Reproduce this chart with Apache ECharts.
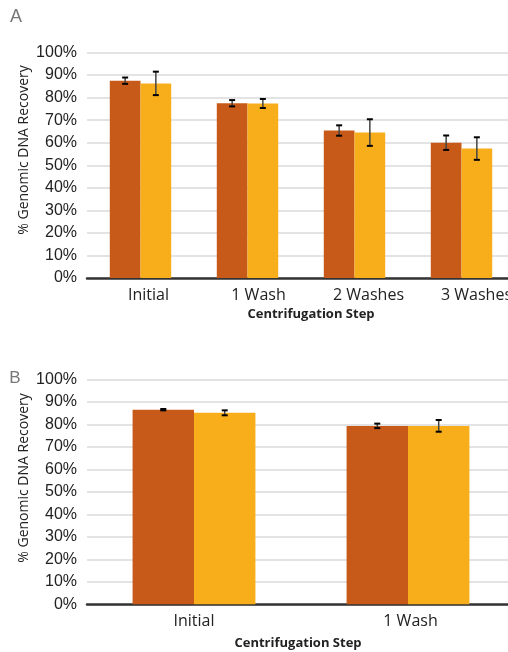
<!DOCTYPE html>
<html>
<head>
<meta charset="utf-8">
<script src="https://cdn.jsdelivr.net/npm/echarts@6/dist/echarts.min.js"></script>
<style>
  html, body { margin: 0; padding: 0; background: #fff; }
  #chart { width: 508px; height: 652px; }
</style>
</head>
<body>
<div id="chart"></div>
<script>
// Panel A: recovery after successive centrifugation washes
const categoriesA = ['Initial', '1 Wash', '2 Washes', '3 Washes'];
const darkA = [87.5, 77.5, 65.4, 60.0];
const darkErrA = [1.4, 1.4, 2.3, 3.2];
const lightA = [86.3, 77.4, 64.5, 57.4];
const lightErrA = [5.2, 2.0, 5.9, 5.0];

// Panel B: initial vs one wash
const categoriesB = ['Initial', '1 Wash'];
const darkB = [86.5, 79.3];
const darkErrB = [0.3, 1.0];
const lightB = [85.1, 79.3];
const lightErrB = [1.1, 2.6];

const yTicks = [0, 10, 20, 30, 40, 50, 60, 70, 80, 90, 100];

const DARK = '#C85A19';
const LIGHT = '#F8AE1A';
const BAR_FRAC = 0.287;
const tickFont = 'Liberation Sans';
const catFont = 'Open Sans';
// left padding (px) that nudges each category label to the right
const labelPadA = [16, 22, 28, 30];
const labelPadB = [0, 5];

function errorItems(values, errs) {
  return values.map((v, i) => [i, v, errs[i]]);
}

// Draws a capped error bar over the dark (side -1) or light (side +1) bar
function errorRenderer(side) {
  return function (params, api) {
    const idx = api.value(0);
    const v = api.value(1);
    const e = api.value(2);
    const band = api.size([1, 0])[0];
    const bw = band * BAR_FRAC;
    const x = api.coord([idx, v])[0] + side * bw / 2;
    const top = api.coord([idx, v + e])[1];
    const bot = api.coord([idx, v - e])[1];
    const cap = 3;
    return {
      type: 'group',
      children: [
        { type: 'line', shape: { x1: x, y1: top, x2: x, y2: bot },
          style: { stroke: '#444', lineWidth: 1.5 } },
        { type: 'line', shape: { x1: x - cap, y1: top, x2: x + cap, y2: top },
          style: { stroke: '#000', lineWidth: 2 } },
        { type: 'line', shape: { x1: x - cap, y1: bot, x2: x + cap, y2: bot },
          style: { stroke: '#000', lineWidth: 2 } }
      ]
    };
  };
}

function xAxisFor(cats, gridIndex, pads) {
  const rich = {};
  pads.forEach((p, i) => {
    rich['s' + i] = { color: '#222', fontFamily: catFont, fontSize: 16, padding: [0, 0, 0, p] };
  });
  return {
    type: 'category', gridIndex, data: cats,
    axisTick: { show: false },
    axisLine: { lineStyle: { color: '#333', width: 2.5 } },
    axisLabel: {
      color: '#222', fontFamily: catFont, fontSize: 16, margin: 9,
      interval: 0, hideOverlap: false,
      formatter: (val, i) => '{s' + i + '|' + val + '}', rich
    },
    splitLine: { show: false }
  };
}

function yAxisFor(gridIndex) {
  return {
    type: 'value', gridIndex, min: yTicks[0], max: yTicks[yTicks.length - 1],
    interval: yTicks[1] - yTicks[0],
    axisLine: { show: false }, axisTick: { show: false },
    axisLabel: { formatter: '{value}%', color: '#222', fontFamily: tickFont, fontSize: 16, margin: 10 },
    splitLine: { lineStyle: { color: '#dadada', width: 1.5 } }
  };
}

function barSeries(values, color, idx) {
  return {
    type: 'bar', xAxisIndex: idx, yAxisIndex: idx, data: values,
    barWidth: (BAR_FRAC * 100) + '%', barGap: '0%',
    itemStyle: { color }, silent: true, z: 2
  };
}

function errSeries(values, errs, side, idx) {
  return {
    type: 'custom', xAxisIndex: idx, yAxisIndex: idx,
    data: errorItems(values, errs), renderItem: errorRenderer(side),
    silent: true, z: 5
  };
}

function axisTitle(text, x, y, rotate, bold) {
  return {
    type: 'text', x, y, rotation: rotate ? Math.PI / 2 : 0,
    style: {
      text, fill: '#222', font: (bold ? 'bold 13px' : '14px') + ' "Open Sans"',
      textAlign: 'center', textVerticalAlign: 'middle'
    }
  };
}

const chart = echarts.init(document.getElementById('chart'), null, { renderer: 'canvas' });
chart.setOption({
  animation: false,
  backgroundColor: '#fff',
  grid: [
    { left: 87, top: 52.5, width: 428, height: 225.5, outerBoundsMode: 'none', containLabel: false },
    { left: 87, top: 379.3, width: 428, height: 225, outerBoundsMode: 'none', containLabel: false }
  ],
  xAxis: [xAxisFor(categoriesA, 0, labelPadA), xAxisFor(categoriesB, 1, labelPadB)],
  yAxis: [yAxisFor(0), yAxisFor(1)],
  series: [
    barSeries(darkA, DARK, 0),
    barSeries(lightA, LIGHT, 0),
    errSeries(darkA, darkErrA, -1, 0),
    errSeries(lightA, lightErrA, 1, 0),
    barSeries(darkB, DARK, 1),
    barSeries(lightB, LIGHT, 1),
    errSeries(darkB, darkErrB, -1, 1),
    errSeries(lightB, lightErrB, 1, 1)
  ],
  graphic: [
    { type: 'text', x: 16, y: 17.5,
      style: { text: 'A', fill: '#777', font: '18px "Liberation Sans"', textAlign: 'center', textVerticalAlign: 'middle' } },
    { type: 'text', x: 15, y: 378.5,
      style: { text: 'B', fill: '#777', font: '17px "Liberation Sans"', textAlign: 'center', textVerticalAlign: 'middle' } },
    axisTitle('% Genomic DNA Recovery', 24, 150, true, false),
    axisTitle('% Genomic DNA Recovery', 24, 478, true, false),
    axisTitle('Centrifugation Step', 311, 314, false, true),
    axisTitle('Centrifugation Step', 298, 643, false, true)
  ]
});
</script>
</body>
</html>
